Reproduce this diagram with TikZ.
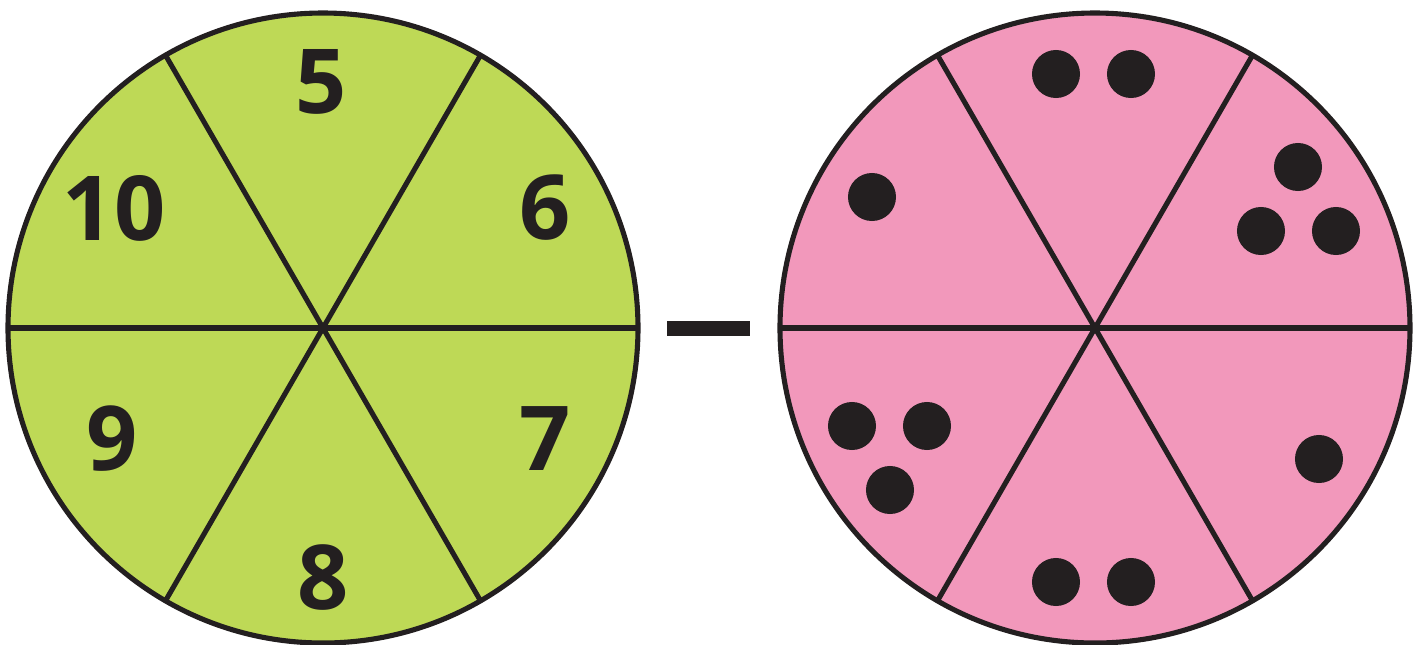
\documentclass[tikz,border=0pt]{standalone}
\usepackage{fontspec}
\setmainfont{Open Sans}
\usepackage{tikz}
\usetikzlibrary{positioning,calc}

\definecolor{limegreen}{HTML}{BED956}
\definecolor{rosepink}{HTML}{F298BB}
\definecolor{ink}{HTML}{231F20}

\begin{document}
\begin{tikzpicture}[x=0.01cm,y=0.01cm,
        wheel/.style={draw=ink,line width=1.45pt},
        num/.style={font=\fontsize{25.5}{26}\selectfont\bfseries,text=ink,inner sep=0pt},
        dot/.style={circle,fill=ink,inner sep=0pt,minimum size=0.48cm}]
        \useasboundingbox (0,0) rectangle (1423,644);
        \coordinate (L) at (323,316);
        \coordinate (R) at (1095,316);
        % the two wheels
        \draw[wheel,fill=limegreen] (L) circle (315);
        \draw[wheel,fill=rosepink] (R) circle (315);
        \foreach \c in {L,R}
            \foreach \a in {0,60,120}
                \draw[wheel] ($(\c)+(\a:315)$) -- ($(\c)+(\a+180:315)$);
        % numbers
        \node[num] (n5)  at (321,562) {5};
        \node[num] (n6)  at (545,436) {6};
        \node[num] (n7)  at (545,205) {7};
        \node[num] (n8)  at (323,66)  {8};
        \node[num] (n9)  at (112,205) {9};
        \node[num] (n10) at (114,436) {10};
        % minus sign
        \fill[ink] (667,308) rectangle (750,323);
        % dots
        \foreach \x/\y [count=\i] in {1056/570,1131/570,872/447,1298/477,1261/413,1336/413,
                852/218,927/218,890/154,1319/185,1056/62,1131/62}
            \node[dot] (d\i) at (\x,\y) {};
    \end{tikzpicture}
\end{document}
